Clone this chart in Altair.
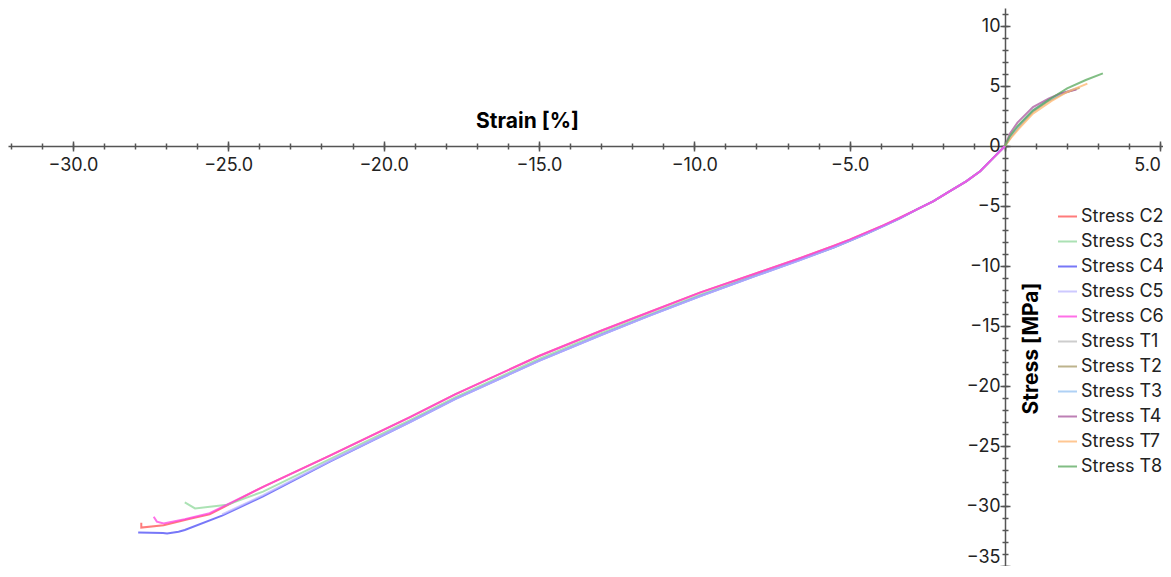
import altair as alt
import pandas as pd

series_names = ["Stress C2", "Stress C3", "Stress C4", "Stress C5", "Stress C6",
                "Stress T1", "Stress T2", "Stress T3", "Stress T4", "Stress T7", "Stress T8"]
series_colors = ["#ff5050", "#8fd89b", "#4a4af5", "#bdb8ff", "#ff40e0",
                 "#bdbdbd", "#a89a66", "#95c2f2", "#a8559c", "#ffb56e", "#57a85b"]

# Compression specimens (strain %, stress MPa)
C2_strain = [0, -0.4, -0.8, -1.25, -1.8, -2.3, -2.85, -3.4, -3.9, -4.45, -5.0, -5.5, -6.6, -8.0, -9.8,
             -11.5, -13.0, -15.0, -17.7, -19.15, -21.73, -23.88, -25.6, -26.3, -27.08, -27.8, -27.8]
C2_stress = [0, -1.05, -2.1, -2.95, -3.8, -4.6, -5.3, -6.0, -6.6, -7.2, -7.8, -8.3, -9.35, -10.6, -12.2,
             -13.9, -15.4, -17.5, -20.7, -22.6, -25.8, -28.4, -30.7, -31.1, -31.6, -31.8, -31.4]

C3_strain = [0, -0.4, -0.8, -1.25, -1.8, -2.3, -2.85, -3.4, -3.9, -4.45, -5.0, -5.5, -6.6, -8.0, -9.8,
             -11.5, -13.0, -15.0, -17.7, -19.15, -21.73, -23.88, -25.04, -26.07, -26.4]
C3_stress = [0, -1.05, -2.1, -2.95, -3.8, -4.6, -5.3, -6.05, -6.65, -7.3, -7.9, -8.45, -9.45, -10.75, -12.4,
             -14.1, -15.6, -17.75, -20.95, -22.85, -26.1, -28.8, -29.9, -30.2, -29.7]

C4_strain = [0, -0.4, -0.8, -1.25, -1.8, -2.3, -2.85, -3.4, -3.9, -4.45, -5.0, -5.5, -6.6, -8.0, -9.8,
             -11.5, -13.0, -15.0, -17.7, -19.15, -21.73, -23.88, -25.2, -26.4, -26.6, -26.97, -27.1, -27.9]
C4_stress = [0, -1.05, -2.1, -2.95, -3.8, -4.6, -5.3, -6.05, -6.65, -7.3, -7.9, -8.45, -9.5, -10.8, -12.5,
             -14.2, -15.75, -17.9, -21.1, -23.0, -26.3, -29.2, -30.8, -32.0, -32.15, -32.3, -32.25, -32.2]

C5_strain = [0, -0.4, -0.8, -1.25, -1.8, -2.3, -2.85, -3.4, -3.9, -4.45, -5.0, -5.5, -6.6, -8.0, -9.8,
             -11.5, -13.0, -15.0, -17.7, -19.15, -21.73, -23.88, -25.2]
C5_stress = [0, -1.05, -2.1, -2.95, -3.8, -4.6, -5.3, -6.05, -6.65, -7.3, -7.9, -8.45, -9.5, -10.8, -12.5,
             -14.2, -15.75, -17.9, -21.1, -23.0, -26.25, -29.1, -30.7]

C6_strain = [0, -0.4, -0.8, -1.25, -1.8, -2.3, -2.85, -3.4, -3.9, -4.45, -5.0, -5.5, -6.6, -8.0, -9.8,
             -11.5, -13.0, -15.0, -17.7, -19.15, -21.73, -23.88, -25.6, -26.4, -27.08, -27.3, -27.4]
C6_stress = [0, -1.05, -2.1, -2.95, -3.8, -4.6, -5.3, -6.0, -6.6, -7.2, -7.8, -8.3, -9.35, -10.6, -12.2,
             -13.9, -15.4, -17.5, -20.7, -22.6, -25.8, -28.4, -30.6, -31.1, -31.45, -31.3, -30.9]

# Tension specimens
T1_strain = [0, 0.2, 0.5, 0.9, 1.4, 1.9, 2.2]
T1_stress = [0, 0.9, 1.9, 3.0, 3.85, 4.45, 4.7]
T2_strain = [0, 0.2, 0.5, 0.9, 1.4, 1.9, 2.4]
T2_stress = [0, 0.8, 1.75, 2.85, 3.75, 4.4, 4.85]
T3_strain = [0, 0.2, 0.5, 0.9, 1.4, 1.9, 2.3]
T3_stress = [0, 0.85, 1.85, 2.95, 3.85, 4.45, 4.8]
T4_strain = [0, 0.15, 0.4, 0.9, 1.4, 1.8, 2.3]
T4_stress = [0, 1.0, 1.95, 3.25, 3.95, 4.4, 4.7]
T7_strain = [0, 0.2, 0.45, 0.9, 1.5, 2.0, 2.65]
T7_stress = [0, 0.7, 1.45, 2.7, 3.75, 4.5, 5.2]
T8_strain = [0, 0.15, 0.4, 0.9, 1.5, 2.0, 2.6, 3.15]
T8_stress = [0, 0.8, 1.65, 2.95, 4.0, 4.8, 5.5, 6.05]

x_major_ticks = [-30, -25, -20, -15, -10, -5, 0, 5]
x_labels = [-30, -25, -20, -15, -10, -5, 5]
x_minor_ticks = list(range(-32, 6))
y_major_ticks = [-35, -30, -25, -20, -15, -10, -5, 0, 5, 10]
y_minor_ticks = list(range(-35, 12))

all_series = [
    ("Stress C2", C2_strain, C2_stress), ("Stress C3", C3_strain, C3_stress),
    ("Stress C4", C4_strain, C4_stress), ("Stress C5", C5_strain, C5_stress),
    ("Stress C6", C6_strain, C6_stress), ("Stress T1", T1_strain, T1_stress),
    ("Stress T2", T2_strain, T2_stress), ("Stress T3", T3_strain, T3_stress),
    ("Stress T4", T4_strain, T4_stress), ("Stress T7", T7_strain, T7_stress),
    ("Stress T8", T8_strain, T8_stress),
]
rows = []
for k, (name, xs_, ys_) in enumerate(all_series):
    for i, (x, y) in enumerate(zip(xs_, ys_)):
        rows.append({"series": name, "sid": k, "idx": i, "strain": x, "stress": y})
df = pd.DataFrame(rows)

W, H = 1155, 558
XDOM = [-32.09, 5.085]
YDOM = [-35, 11.5]
X0 = 997   # pixel of strain 0 inside the view
Y0 = 138   # pixel of stress 0 inside the view
FONT = "Inter"
AX = "#555555"

xs = alt.Scale(domain=XDOM, nice=False, zero=False)
ys = alt.Scale(domain=YDOM, nice=False, zero=False)

x_main = alt.Axis(values=x_labels, format=".1f", orient="bottom", offset=Y0 - H,
                  ticks=False, tickSize=0, labelFontSize=18, labelFont=FONT, labelColor="#222222",
                  labelPadding=10, labelFlush=False, labelOverlap=False,
                  labelAlign={"condition": {"test": "datum.value > 4", "value": "right"},
                              "value": "center"},
                  domainColor=AX, domainWidth=1.5, grid=False,
                  title="Strain [%]", titleFont=FONT, titleFontSize=21, titleFontWeight="bold",
                  titleColor="#000000", titleX=519, titleY=-25, titleBaseline="middle",
                  titleAlign="center", titleAngle=0)
y_main = alt.Axis(values=y_major_ticks, orient="left", offset=-X0,
                  ticks=False, tickSize=0, labelFontSize=18, labelFont=FONT, labelColor="#222222",
                  labelPadding=5, labelFlush=False, labelOverlap=False,
                  labelBaseline={"condition": {"test": "datum.value < -34", "value": "bottom"},
                                 "value": "middle"},
                  domainColor=AX, domainWidth=1.5, grid=False,
                  title="Stress [MPa]", titleFont=FONT, titleFontSize=21, titleFontWeight="bold",
                  titleColor="#000000", titleX=26, titleY=340, titleBaseline="middle",
                  titleAlign="center", titleAngle=270)

lines = alt.Chart(df).mark_line(strokeWidth=2, opacity=0.75).encode(
    x=alt.X("strain:Q", scale=xs, axis=x_main),
    y=alt.Y("stress:Q", scale=ys, axis=y_main),
    color=alt.Color("series:N", scale=alt.Scale(domain=series_names, range=series_colors),
                    legend=alt.Legend(orient="none", legendX=1049, legendY=198, title=None,
                                      symbolType="stroke", symbolSize=361, symbolStrokeWidth=2,
                                      labelFontSize=18, labelFont=FONT, labelColor="#222222",
                                      rowPadding=5, labelOffset=3, padding=0)),
    detail="sid:N",
    order="idx:Q",
)

def tick_layer(xvals, yvals, xsize, ysize, xoff, yoff):
    return alt.Chart(df).mark_point(opacity=0).encode(
        x=alt.X("strain:Q", scale=xs,
                axis=alt.Axis(values=xvals, orient="bottom", offset=xoff, domain=False, labels=False,
                              tickSize=xsize, tickColor=AX, tickWidth=1.5, grid=False, title=None)),
        y=alt.Y("stress:Q", scale=ys,
                axis=alt.Axis(values=yvals, orient="left", offset=yoff, domain=False, labels=False,
                              tickSize=ysize, tickColor=AX, tickWidth=1.5, grid=False, title=None)),
    )

major = tick_layer(x_major_ticks, y_major_ticks, 10, 10, Y0 - 5 - H, -(X0 + 5))
minor = tick_layer(x_minor_ticks, y_minor_ticks, 6, 6, Y0 - 3 - H, -(X0 + 3))

chart = alt.layer(lines, major, minor).resolve_axis(x="independent", y="independent").properties(
    width=W, height=H, padding=0, autosize=alt.AutoSizeParams(type="none"), background="white"
).configure_view(stroke=None)

chart.save("out.html", embed_options={"renderer": "svg", "actions": False})
